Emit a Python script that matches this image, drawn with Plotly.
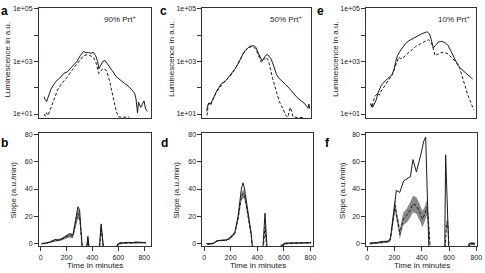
import plotly.graph_objects as go

# ---------------- data ----------------
# Panel a (90% Prt+), luminescence in a.u.
a_solid_t = [28, 35, 47, 60, 80, 105, 130, 155, 180, 205, 230, 256, 280, 306, 331, 350, 369, 390, 407, 425,
             440, 450, 465, 480, 496, 510, 534, 560, 584, 610, 647, 680, 710, 725, 736, 743, 748, 755, 761,
             772, 786, 798, 810, 824]
a_solid_v = [45.7, 35.5, 30.2, 50.1, 89.1, 141, 200, 251, 355, 398, 525, 708, 1000, 1660, 2399, 2138, 2188,
             2042, 2239, 1660, 1000, 525, 759, 1000, 1096, 891, 603, 398, 263, 200, 148, 112, 72.4, 63.1,
             38, 22.4, 11, 28.2, 25.1, 17.8, 26.3, 31.6, 15.8, 12.6]
a_dash_t = [28, 35, 45, 55, 70, 90, 104, 130, 160, 206, 240, 281, 310, 331, 350, 369, 390, 407, 425, 440,
            450, 465, 483, 509, 534, 559, 584, 600, 620, 685]
a_dash_v = [10, 8.3, 11.2, 8.9, 12.6, 25.1, 39.8, 81.3, 141, 257, 447, 813, 1318, 1660, 1778, 1778, 1585,
            1445, 1000, 501, 347, 447, 525, 457, 166, 45.7, 12.6, 7.9, 7.6, 7.6]

# Panel c (50% Prt+)
c_solid_t = [20, 25, 35, 50, 65, 80, 94, 110, 131, 150, 168, 190, 205, 230, 255, 275, 292, 310, 329, 350,
             367, 380, 391, 405, 416, 428, 436, 445, 453, 465, 478, 490, 503, 515, 528, 545, 565, 590, 614,
             640, 664, 685, 701, 725, 751, 770, 781, 788, 795]
c_solid_v = [12.6, 20, 26.3, 25.1, 35.5, 56.2, 75.9, 100, 145, 166, 200, 282, 347, 501, 813, 1413, 1950, 2630,
             3311, 3802, 3981, 3802, 3311, 2239, 1585, 1259, 1047, 1259, 1514, 1738, 1820, 1585, 1259, 891,
             550, 316, 224, 174, 132, 95.5, 66.1, 50.1, 41.7, 33.1, 26.3, 20, 16.6, 24, 15.8]
c_dash_t = [22, 28, 38, 50, 65, 80, 94, 131, 168, 205, 255, 292, 329, 367, 391, 405, 416, 430, 445, 466, 478,
            490, 515, 540, 565, 590, 605, 615, 630, 648, 658, 668, 700, 750]
c_dash_v = [8.9, 17.8, 26.3, 22.4, 35.5, 52.5, 70.8, 126, 191, 316, 794, 1905, 3311, 3802, 2818, 1995, 1413,
            933, 1122, 1445, 1202, 813, 224, 81.3, 30.2, 16.6, 11.2, 8.9, 7.6, 17.8, 12.6, 7.9, 7.4, 7.4]

# Panel e (10% Prt+)
e_solid_t = [26, 32, 38, 50, 67, 80, 91, 103, 115, 130, 151, 168, 182, 190, 199, 210, 223, 240, 259, 280, 307,
             330, 355, 380, 404, 425, 440, 452, 463, 475, 487, 500, 512, 523, 540, 559, 577, 595, 613, 631,
             650, 667, 685, 703, 720, 739, 757, 775]
e_solid_v = [25.7, 20, 17.8, 22.4, 34.7, 63.1, 93.3, 120, 145, 178, 224, 263, 316, 398, 537, 1000, 1660, 2399,
             3467, 4677, 6166, 7244, 8128, 9550, 11482, 12589, 13490, 12023, 9550, 5623, 3311, 3981, 5012,
             5495, 5754, 5623, 5012, 3981, 2630, 1660, 1047, 708, 550, 457, 363, 302, 251, 214]
e_dash_t = [26, 35, 45, 55, 65, 79, 90, 103, 120, 139, 155, 175, 190, 206, 220, 231, 245, 259, 280, 307, 330,
            355, 380, 404, 430, 451, 466, 480, 490, 499, 510, 523, 540, 559, 577, 595, 620, 643, 667, 680,
            691, 703, 715, 727, 739, 752, 764, 775, 783]
e_dash_v = [23.7, 17.8, 28.2, 45.7, 52.5, 61.7, 52.5, 75.2, 100, 145, 191, 257, 355, 617, 1122, 1445, 1318,
            1259, 1660, 2239, 2884, 3631, 4365, 5248, 6026, 6683, 5623, 3981, 2512, 1660, 1778, 1950, 2138,
            2239, 2138, 1950, 1413, 1096, 813, 562, 347, 209, 126, 79.4, 53.1, 36.3, 25.7, 17.8, 14.5]

# Panel b: slope (a.u./min)
b_solid_t = [8, 30, 50, 71, 90, 110, 130, 148, 170, 199, 224, 250, 265, 288, 301, 314, 327, 347, 365, 383,
             449, 467, 493, 580, 595, 610, 630, 650, 680, 710, 740, 770, 800, 812]
b_solid_v = [0, 0.3, 0.5, 1, 2, 3, 2.8, 2.6, 4, 6, 7.4, 6.5, 15, 27, 24.6, 10, -10, -10, 5.5, -10,
             -10, 14.5, -10, -10, -0.5, 0.5, 0.8, 0.7, 1, 0.8, 1.2, 1, 1, 0.8]
b_dash_t = [8, 30, 50, 71, 90, 110, 130, 148, 170, 199, 224, 250, 265, 288, 301, 314, 327, 347, 365, 383,
            449, 467, 493, 575, 590, 610, 630, 660, 700, 740, 770, 812]
b_dash_v = [0, 0.2, 0.5, 1.2, 1.8, 2.2, 2.5, 2.8, 3.5, 5, 6, 5.5, 13, 22, 20, 8, -10, -10, 3.5, -10,
            -10, 12, -10, -10, -1, 0, 0.5, 0.5, 0.7, 0.9, 0.8, 0.7]
b_band = [0.5, 0.5, 0.5, 0.7, 0.8, 0.8, 0.8, 0.8, 1, 1.2, 1.5, 1.5, 2.5, 3.5, 3.5, 2.5, 2, 2, 1.5, 2,
          2, 2.5, 2, 1, 1, 0.8, 0.6, 0.6, 0.6, 0.6, 0.6, 0.6]

# Panel d
d_solid_t = [19, 40, 69, 90, 106, 130, 150, 168, 190, 205, 230, 255, 280, 292, 300, 309, 329, 354, 370, 438,
             458, 478, 565, 602, 630, 660, 700, 740, 780, 805]
d_solid_v = [0, 0, 0.3, 1.5, 2.4, 2.3, 2.5, 2.6, 4, 5.5, 7.9, 19.8, 40, 44.5, 42, 36.7, 22.3, 7.9, -10, -10,
             22.3, -10, -10, 0, 0.5, 0.5, 0.6, 0.8, 0.8, 0.8]
d_dash_t = [19, 40, 69, 90, 106, 130, 150, 168, 190, 205, 230, 255, 280, 292, 300, 309, 329, 354, 370, 440,
            458, 476, 552, 575, 590, 605, 630, 660, 700, 740, 780, 805]
d_dash_v = [0, -0.5, 0.2, 1.8, 2.2, 2.5, 2.3, 2.8, 3.5, 5, 7.5, 18, 34, 36.5, 36, 33, 20, 6, -10, -10,
            12.5, -10, -10, -2, -1, 0, 0.2, 0.3, 0.5, 0.6, 0.6, 0.6]
d_band = [0.4, 0.4, 0.5, 0.6, 0.6, 0.6, 0.6, 0.7, 0.8, 1, 1.2, 1.8, 2.5, 3, 3, 3, 2.5, 1.5, 1.5, 1.5,
          2, 1.5, 1.5, 1.2, 1, 0.8, 0.6, 0.6, 0.5, 0.5, 0.5, 0.5]

# Panel f
f_solid_t = [20, 50, 80, 117, 154, 171, 190, 214, 239, 268, 300, 317, 336, 361, 393, 415, 429, 454, 555,
             568, 575, 600, 735, 745, 760, 790]
f_solid_v = [0.5, 0.7, 1, 1.7, 1.7, 4, 18, 39, 37.5, 46, 48, 49, 61.5, 52.5, 65, 75, 78, -10, -10,
             -10, 65, -10, -10, 0, 0.5, 0.3]
f_dash_t = [20, 80, 117, 154, 171, 195, 205, 220, 232, 239, 250, 264, 288, 312, 336, 361, 385, 405, 422, 439,
            454, 466, 570, 580, 590, 605, 740, 750, 770, 790]
f_dash_v = [0, 0.8, 1.5, 1.5, 3, 24, 28, 18, 13, 6.7, 12, 18, 20.4, 24, 29, 28, 23, 18, 21.6, 26.6,
            10.4, -10, -10, 13, 16, -10, -10, -0.5, 0, -0.5]
f_band = [0.5, 0.6, 0.8, 0.8, 1.5, 4, 4.5, 4, 4, 3.5, 4, 4.5, 5, 5.5, 6, 6, 6, 6, 5.5, 5.5,
          4, 3, 3, 3, 3, 3, 1, 1, 1, 1]

top_ticks = [10, 100, 1000, 10000, 100000]
top_ticktext = ["1e+01", " ", "1e+03", " ", "1e+05"]
bottom_ticks = [0, 20, 40, 60, 80]
time_ticks = [0, 200, 400, 600, 800]
prt_labels = ["90% Prt<sup>+</sup>", "50% Prt<sup>+</sup>", "10% Prt<sup>+</sup>"]
panel_letters = ["a", "b", "c", "d", "e", "f"]

# ---------------- layout ----------------
W, H = 485, 273
FONT = "Liberation Sans, Arial, sans-serif"
INK = "#1a1a1a"
BOX = "#333333"

def px(x):
    return x / W

def py(y):
    return 1 - y / H

top_y = [py(116.7), py(5)]
bot_y = [py(247), py(132)]
col_top_x = [[px(38.5), px(151.5)], [px(204), px(313.5)], [px(370), px(481)]]
col_bot_x = [[px(38.5), px(151.5)], [px(204), px(316)], [px(370), px(482)]]
top_xrange = [[-12, 849], [-12.6, 801], [-5, 800]]
bot_xrange = [[-12, 849], [-12.6, 820], [-5, 805]]

fig = go.Figure()

top_series = [(a_solid_t, a_solid_v, a_dash_t, a_dash_v),
              (c_solid_t, c_solid_v, c_dash_t, c_dash_v),
              (e_solid_t, e_solid_v, e_dash_t, e_dash_v)]
bot_series = [(b_solid_t, b_solid_v, b_dash_t, b_dash_v, b_band),
              (d_solid_t, d_solid_v, d_dash_t, d_dash_v, d_band),
              (f_solid_t, f_solid_v, f_dash_t, f_dash_v, f_band)]

layout = dict(width=W, height=H, margin=dict(l=0, r=0, t=0, b=0),
              paper_bgcolor="white", plot_bgcolor="white", showlegend=False,
              font=dict(family=FONT, size=7, color=INK))

common_axis = dict(showline=True, mirror=True, linecolor=BOX, linewidth=1, showgrid=False,
                   zeroline=False, ticks="outside", ticklen=4, tickwidth=1, tickcolor=BOX,
                   tickfont=dict(family=FONT, size=7, color=INK))

annotations = []
for i in range(3):
    nt = 2 * i + 1
    nb = 2 * i + 2
    xt, yt = f"x{nt}", f"y{nt}"
    xb, yb = f"x{nb}", f"y{nb}"
    sfx_t = "" if nt == 1 else str(nt)
    sfx_b = str(nb)

    layout["xaxis" + sfx_t] = dict(common_axis, domain=col_top_x[i], range=top_xrange[i],
                                   anchor=yt, showticklabels=False, ticks="")
    layout["yaxis" + sfx_t] = dict(common_axis, domain=top_y, type="log", range=[0.85, 5.037],
                                   anchor=xt, tickvals=top_ticks, ticktext=top_ticktext)
    layout["xaxis" + sfx_b] = dict(common_axis, domain=col_bot_x[i], range=bot_xrange[i],
                                   anchor=yb, tickvals=time_ticks)
    layout["yaxis" + sfx_b] = dict(common_axis, domain=bot_y, range=[-1.95, 80.9],
                                   anchor=xb, tickvals=bottom_ticks)

    st, sv, dt, dv = top_series[i]
    fig.add_trace(go.Scatter(x=dt, y=dv, mode="lines", xaxis=xt, yaxis=yt,
                             line=dict(color=INK, width=1, dash="3px,2px")))
    fig.add_trace(go.Scatter(x=st, y=sv, mode="lines", xaxis=xt, yaxis=yt,
                             line=dict(color=INK, width=1)))

    st, sv, dt, dv, band = bot_series[i]
    lower = [v - h for v, h in zip(dv, band)]
    upper = [v + h for v, h in zip(dv, band)]
    fig.add_trace(go.Scatter(x=dt, y=lower, mode="lines", xaxis=xb, yaxis=yb,
                             line=dict(width=0, color="rgba(0,0,0,0)"), hoverinfo="skip"))
    fig.add_trace(go.Scatter(x=dt, y=upper, mode="lines", xaxis=xb, yaxis=yb, fill="tonexty",
                             fillcolor="rgba(115,115,115,0.85)",
                             line=dict(width=0, color="rgba(0,0,0,0)"), hoverinfo="skip"))
    fig.add_trace(go.Scatter(x=dt, y=dv, mode="lines", xaxis=xb, yaxis=yb,
                             line=dict(color=INK, width=1, dash="3px,2px")))
    fig.add_trace(go.Scatter(x=st, y=sv, mode="lines", xaxis=xb, yaxis=yb,
                             line=dict(color=INK, width=1)))

top_title_x = [6.5, 172, 338]
bot_title_x = [12.5, 177.5, 345]
prt_x = [120, 289, 459]
letter_pos = [(4, 8), (4, 142), (165, 8), (166, 142), (324, 8), (331, 142)]
time_x = [95, 260, 426]

for i in range(3):
    annotations.append(dict(x=px(top_title_x[i]), y=py(57), xref="paper", yref="paper",
                            text="Luminescence in a.u.", textangle=-90, showarrow=False,
                            font=dict(size=8, color=INK, family=FONT), xanchor="center", yanchor="middle"))
    annotations.append(dict(x=px(bot_title_x[i]), y=py(190), xref="paper", yref="paper",
                            text="Slope (a.u./min)", textangle=-90, showarrow=False,
                            font=dict(size=8, color=INK, family=FONT), xanchor="center", yanchor="middle"))
    annotations.append(dict(x=px(prt_x[i]), y=py(16), xref="paper", yref="paper",
                            text=prt_labels[i], showarrow=False,
                            font=dict(size=8, color=INK, family=FONT), xanchor="center", yanchor="middle"))
    annotations.append(dict(x=px(time_x[i]), y=py(266.5), xref="paper", yref="paper",
                            text="Time in minutes", showarrow=False,
                            font=dict(size=8, color=INK, family=FONT), xanchor="center", yanchor="middle"))

for letter, (lx, ly) in zip(panel_letters, letter_pos):
    annotations.append(dict(x=px(lx), y=py(ly), xref="paper", yref="paper",
                            text=f"<b>{letter}</b>", showarrow=False,
                            font=dict(size=12, color="black", family=FONT),
                            xanchor="center", yanchor="middle"))

layout["annotations"] = annotations
fig.update_layout(**layout)
fig.write_html("out.html", config={"displayModeBar": False, "staticPlot": True},
               post_script="document.body.style.margin='0';document.body.style.padding='0';")
